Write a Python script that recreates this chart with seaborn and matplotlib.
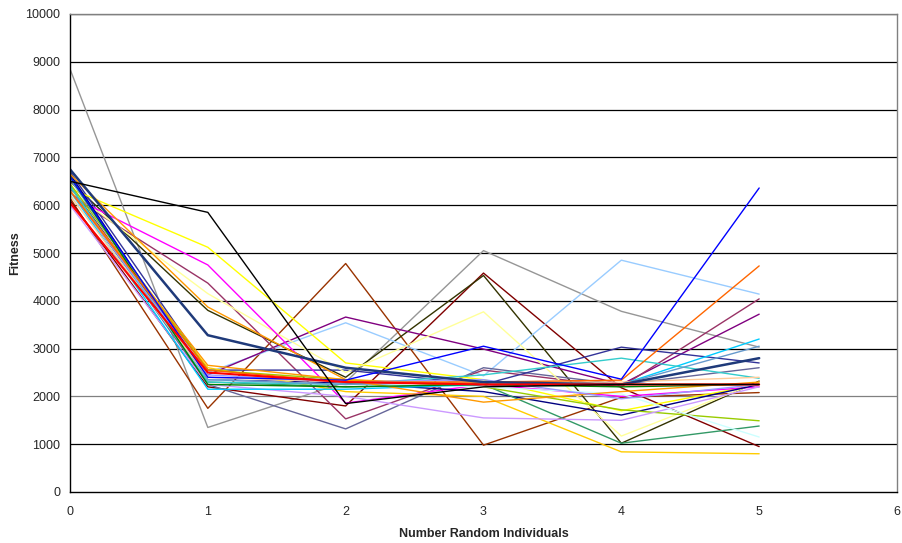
import matplotlib
matplotlib.use('Agg')
import matplotlib.pyplot as plt
import seaborn as sns
import pandas as pd

# x positions (number of random individuals)
x_vals = [0, 1, 2, 3, 4, 5]

# one list of fitness values per run
black = [6500, 5850, 1850, 2200, 2250, 2250]
gray = [8850, 1350, 2300, 5050, 3780, 3030]
brown = [6150, 1750, 4780, 980, 1980, 2080]
maroon = [6100, 2200, 1800, 4580, 2180, 950]
olive = [6500, 3800, 2400, 4530, 1020, 2320]
blue = [6600, 2400, 2340, 3050, 2360, 6360]
orange = [6300, 2550, 2300, 2300, 2340, 4730]
light_blue = [6300, 2500, 3540, 2430, 4850, 4140]
purple = [6400, 2450, 3660, 2990, 2250, 3720]
plum = [6200, 4370, 1530, 2550, 2200, 4040]
slate = [6350, 2250, 1320, 2600, 2250, 2600]
indigo = [6700, 2550, 2550, 2250, 3030, 2700]
yellow = [6350, 5120, 2700, 2350, 1700, 2250]
light_yellow = [6300, 4150, 2500, 3770, 1170, 2300]
magenta = [6200, 4750, 1860, 2250, 2000, 2200]
dark_navy = [6750, 3280, 2600, 2300, 2250, 2800]
navy = [6650, 2350, 2280, 2100, 1610, 2250]
gold = [6250, 2600, 2100, 2000, 840, 800]
sea_green = [6400, 2300, 2200, 2250, 1020, 1380]
lime = [6450, 2550, 2350, 2200, 1720, 1490]
lavender = [6000, 2250, 2000, 1550, 1500, 2200]
light_cyan = [6250, 2350, 2250, 2200, 2050, 1150]
cyan = [6300, 2150, 2150, 2250, 2250, 3200]
teal = [6400, 2300, 2250, 2450, 2800, 2380]
steel = [6550, 2350, 2250, 2300, 2250, 3050]
peach = [6200, 2400, 2300, 2300, 2300, 2400]
amber = [6300, 2650, 2350, 1880, 2100, 2300]
amber2 = [6650, 3870, 2350, 2250, 2250, 2250]
green = [6600, 2250, 2200, 2250, 2200, 2250]
periwinkle = [6300, 2450, 2300, 2350, 1950, 2250]
red = [6050, 2500, 2300, 2250, 2250, 2250]

series = [
    (gray, '#969696', 1.0), (brown, '#993300', 1.0), (maroon, '#800000', 1.0),
    (olive, '#333300', 1.0), (light_blue, '#99CCFF', 1.0), (purple, '#800080', 1.0),
    (plum, '#993366', 1.0), (slate, '#666699', 1.0), (indigo, '#333399', 1.0),
    (yellow, '#FFFF00', 1.0), (light_yellow, '#FFFF99', 1.0), (magenta, '#FF00FF', 1.0),
    (navy, '#000080', 1.0), (gold, '#FFCC00', 1.0), (sea_green, '#339966', 1.0),
    (lime, '#99CC00', 1.0), (lavender, '#CC99FF', 1.0), (light_cyan, '#CCFFFF', 1.0),
    (cyan, '#00CCFF', 1.0), (teal, '#33CCCC', 1.0), (steel, '#6699CC', 1.0),
    (peach, '#FFCC99', 1.0), (amber, '#FF9900', 1.0), (amber2, '#FF9900', 1.0),
    (green, '#008000', 1.0), (periwinkle, '#9999FF', 1.0), (orange, '#FF6600', 1.0),
    (blue, '#0000FF', 1.0), (dark_navy, '#1F3A7A', 1.8), (red, '#FF0000', 1.5),
    (black, '#000000', 1.0),
]

sns.set_style('white')
plt.rcParams['font.family'] = ['Liberation Sans', 'DejaVu Sans']

fig = plt.figure(figsize=(9.02, 5.43), dpi=100)
ax = fig.add_axes([70 / 902, 51 / 543, 827 / 902, 478 / 543])

for vals, color, lw in series:
    df = pd.DataFrame({'x': x_vals, 'fitness': vals})
    sns.lineplot(data=df, x='x', y='fitness', color=color, linewidth=lw, ax=ax)

# horizontal gridlines
for yv in range(1000, 10001, 1000):
    ax.axhline(yv, color='#808080' if yv == 2000 else 'black', lw=0.9, zorder=0)

ax.set_xlim(0, 6)
ax.set_ylim(0, 10000)
ax.set_xticks(range(0, 7))
ax.set_yticks(range(0, 10001, 1000))
ax.tick_params(axis='both', direction='out', length=4, width=1, color='black',
               labelsize=9, pad=3)
ax.tick_params(axis='x', pad=6)
for side in ['left', 'bottom']:
    ax.spines[side].set_color('black')
    ax.spines[side].set_linewidth(1)
for side in ['top', 'right']:
    ax.spines[side].set_color('#808080')
    ax.spines[side].set_linewidth(1)

ax.set_xlabel('Number Random Individuals', fontsize=9, fontweight='bold', labelpad=7)
ax.set_ylabel('Fitness', fontsize=9, fontweight='bold', labelpad=3)

fig.savefig('out.png', dpi=100)
